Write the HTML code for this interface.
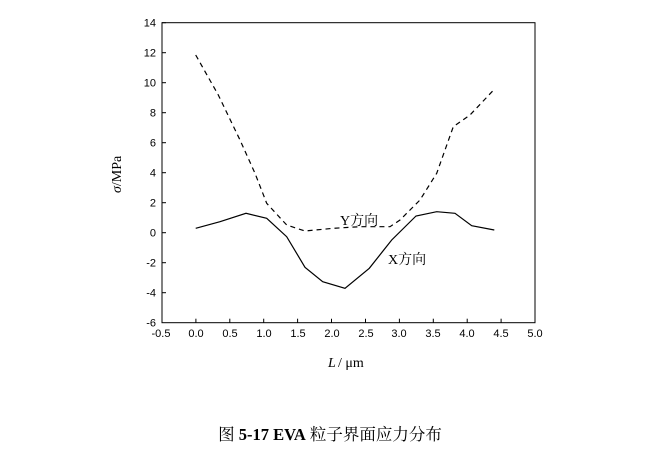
<!DOCTYPE html>
<html><head><meta charset="utf-8"><style>body{margin:0;background:#fff}svg{display:block}</style></head><body>
<svg width="667" height="450" xmlns="http://www.w3.org/2000/svg">
<rect width="667" height="450" fill="#fff"/>
<rect x="162" y="22.7" width="373" height="300" fill="none" stroke="#000" stroke-width="1"/>
<g stroke="#000" stroke-width="1">
<line x1="162" y1="22.7" x2="166" y2="22.7"/><line x1="162" y1="52.7" x2="166" y2="52.7"/><line x1="162" y1="82.7" x2="166" y2="82.7"/><line x1="162" y1="112.7" x2="166" y2="112.7"/><line x1="162" y1="142.7" x2="166" y2="142.7"/><line x1="162" y1="172.7" x2="166" y2="172.7"/><line x1="162" y1="202.7" x2="166" y2="202.7"/><line x1="162" y1="232.7" x2="166" y2="232.7"/><line x1="162" y1="262.7" x2="166" y2="262.7"/><line x1="162" y1="292.7" x2="166" y2="292.7"/>
<line x1="195.9" y1="322.7" x2="195.9" y2="318.7"/><line x1="229.8" y1="322.7" x2="229.8" y2="318.7"/><line x1="263.7" y1="322.7" x2="263.7" y2="318.7"/><line x1="297.6" y1="322.7" x2="297.6" y2="318.7"/><line x1="331.5" y1="322.7" x2="331.5" y2="318.7"/><line x1="365.5" y1="322.7" x2="365.5" y2="318.7"/><line x1="399.4" y1="322.7" x2="399.4" y2="318.7"/><line x1="433.3" y1="322.7" x2="433.3" y2="318.7"/><line x1="467.2" y1="322.7" x2="467.2" y2="318.7"/><line x1="501.1" y1="322.7" x2="501.1" y2="318.7"/>
</g>
<g font-family="Liberation Sans, sans-serif" font-size="11" fill="#000" text-anchor="end">
<text x="156" y="26.5">14</text><text x="156" y="56.5">12</text><text x="156" y="86.5">10</text><text x="156" y="116.5">8</text><text x="156" y="146.5">6</text><text x="156" y="176.5">4</text><text x="156" y="206.5">2</text><text x="156" y="236.5">0</text><text x="156" y="266.5">-2</text><text x="156" y="296.5">-4</text><text x="156" y="326.5">-6</text>
</g>
<g font-family="Liberation Sans, sans-serif" font-size="11" fill="#000" text-anchor="middle">
<text x="161" y="337">-0.5</text><text x="196" y="337">0.0</text><text x="230" y="337">0.5</text><text x="264" y="337">1.0</text><text x="298" y="337">1.5</text><text x="332" y="337">2.0</text><text x="366" y="337">2.5</text><text x="399" y="337">3.0</text><text x="433" y="337">3.5</text><text x="467" y="337">4.0</text><text x="501" y="337">4.5</text><text x="535" y="337">5.0</text>
</g>
<polyline fill="none" stroke="#000" stroke-width="1.2" points="195.7,228.3 220,221.7 246,213.3 266.7,218.3 286.7,236.7 305,267.3 322.7,281.7 345,288.3 369.3,268.3 391.7,240 416,216 436.7,211.7 455,213.3 471.7,225.7 494.3,230"/>
<polyline fill="none" stroke="#000" stroke-width="1.2" stroke-dasharray="5,4" points="195.7,55 218.3,95 240,140 255,173.3 266.7,203.3 286.7,225 305,231 333.3,228.3 360,226.7 390,226.7 400,220 420,200 436.7,173.3 453.3,126.7 470,115 494.3,89.3"/>
<g font-family="Liberation Serif, Noto Serif CJK SC, serif" font-size="14" fill="#000">
<text x="340" y="225">Y方向</text>
<text x="388" y="264">X方向</text>
<text x="328" y="367" font-style="italic">L</text><text x="338" y="367">/ μm</text>
<text transform="translate(121,193) rotate(-90)"><tspan font-style="italic">σ</tspan>/MPa</text>
<text x="330" y="440" text-anchor="middle" font-size="16.5">图 <tspan font-weight="bold">5-17 EVA</tspan> 粒子界面应力分布</text>
</g>
</svg>
</body></html>
